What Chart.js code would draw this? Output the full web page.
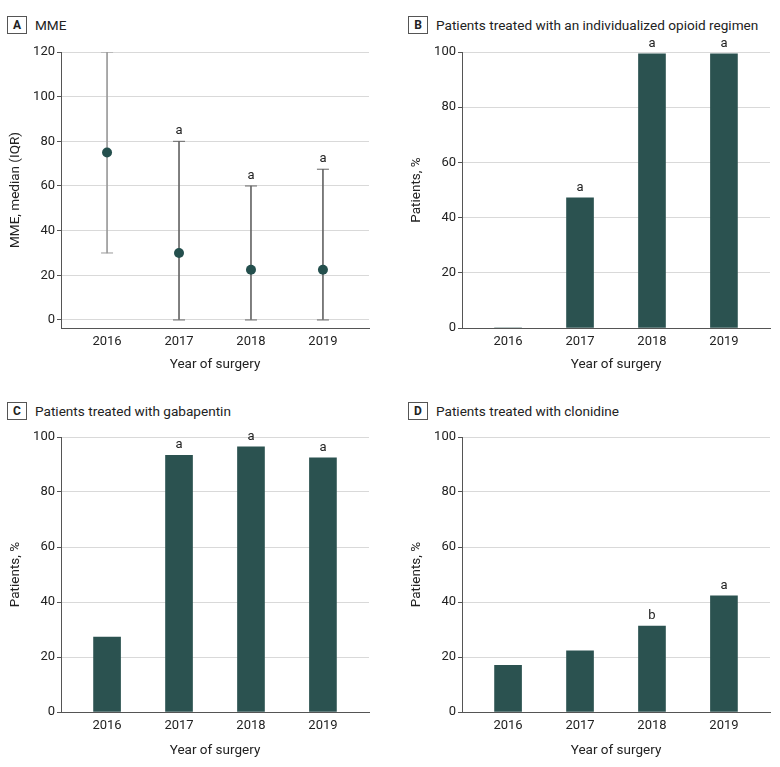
<!DOCTYPE html>
<html><head><meta charset="utf-8">
<script src="https://cdn.jsdelivr.net/npm/chart.js@4/dist/chart.umd.min.js"></script>
<style>
body{margin:0;background:#fff;width:780px;height:767px;position:relative;font-family:Roboto,sans-serif;overflow:hidden}
canvas{position:absolute}
.hdr{position:absolute;font-size:13.6px;color:#222;display:flex;align-items:center;white-space:nowrap;height:18px}
.lbl{box-sizing:border-box;display:inline-block;width:20px;height:18px;border:1px solid #555;text-align:center;line-height:16px;font-weight:bold;font-size:12px;margin-right:8px}
</style></head>
<body>
<div class="hdr" style="left:7px;top:16px"><span class="lbl">A</span>MME</div>
<div class="hdr" style="left:408px;top:16px"><span class="lbl">B</span>Patients treated with an individualized opioid regimen</div>
<div class="hdr" style="left:7px;top:402px"><span class="lbl">C</span>Patients treated with gabapentin</div>
<div class="hdr" style="left:408px;top:402px"><span class="lbl">D</span>Patients treated with clonidine</div>
<canvas id="cA" width="390" height="384" style="left:0;top:0"></canvas>
<canvas id="cB" width="390" height="384" style="left:390px;top:0"></canvas>
<canvas id="cC" width="390" height="383" style="left:0;top:384px"></canvas>
<canvas id="cD" width="390" height="383" style="left:390px;top:384px"></canvas>
<script>
// ---- data ----
const years = [2016, 2017, 2018, 2019];
const mmeMedian = [75, 30, 22.5, 22.5];
const mmeQ1 = [30, 0, 0, 0];
const mmeQ3 = [120, 80, 60, 67.5];
const mmeSig = ['', 'a', 'a', 'a'];
const individualized = [0, 47.2, 99.3, 99.3];
const individualizedSig = ['', 'a', 'a', 'a'];
const gabapentin = [27.2, 93.3, 96.4, 92.4];
const gabapentinSig = ['', 'a', 'a', 'a'];
const clonidine = [17, 22.2, 31.2, 42.2];
const clonidineSig = ['', '', 'b', 'a'];
const mmeTicks = [0, 20, 40, 60, 80, 100, 120];
const pctTicks = [0, 20, 40, 60, 80, 100];

const FONT = 'Roboto, sans-serif';
const TXT = '#222';
const AXIS = '#555';
const BAR = '#2b5250';
const DOT = '#244f4d';

const annotPlugin = {
  id: 'annot',
  afterDatasetsDraw(chart, args, opts) {
    if (!opts.labels) return;
    const ctx = chart.ctx;
    ctx.save();
    ctx.fillStyle = TXT;
    ctx.font = '13px ' + FONT;
    ctx.textAlign = 'center';
    ctx.textBaseline = 'alphabetic';
    opts.labels.forEach((t, i) => {
      if (!t) return;
      const x = chart.scales.x.getPixelForValue(years[i]);
      const y = chart.scales.y.getPixelForValue(opts.tops[i]);
      ctx.fillText(t, x, y - 7);
    });
    ctx.restore();
  }
};

function baseOptions(cfg) {
  return {
    responsive: false,
    animation: false,
    events: [],
    layout: { padding: cfg.pad },
    plugins: {
      legend: { display: false },
      tooltip: { enabled: false },
      annot: { labels: cfg.labels, tops: cfg.tops }
    },
    scales: {
      x: {
        type: 'linear',
        offset: false,
        min: 2015.36, max: 2019.64,
        afterBuildTicks: s => { s.ticks = years.map(v => ({ value: v })); },
        afterFit: s => { s.height = cfg.xh; },
        grid: { display: false, drawTicks: false },
        border: { display: true, color: AXIS, width: 1 },
        ticks: { color: TXT, font: { family: FONT, size: 13 }, padding: 6, callback: v => String(v), maxRotation: 0 },
        title: { display: true, text: 'Year of surgery', color: TXT, font: { family: FONT, size: 13.5 }, padding: { top: 4, bottom: 0 } }
      },
      y: {
        min: cfg.ymin, max: cfg.ymax,
        afterBuildTicks: s => { s.ticks = cfg.yticks.map(v => ({ value: v })); },
        afterFit: s => { s.width = 57; },
        grid: { color: '#d9d9d9', tickColor: AXIS, tickLength: 4, lineWidth: 1 },
        border: { display: true, color: AXIS, width: 1 },
        ticks: { color: TXT, font: { family: FONT, size: 13 }, padding: 2 },
        title: { display: true, text: cfg.ytitle, color: TXT, font: { family: FONT, size: 13.5 }, padding: { top: 4, bottom: 0 } }
      }
    }
  };
}

// Panel A
new Chart(document.getElementById('cA'), {
  type: 'bar',
  data: {
    datasets: [
      {
        type: 'bar',
        data: years.map((y, i) => ({ x: y, y: [mmeQ1[i], mmeQ3[i]] })),
        backgroundColor: ['#9a9a9a', '#666', '#666', '#666'],
        barThickness: 1,
        order: 3
      },
      {
        type: 'scatter',
        data: years.map((y, i) => ({ x: y, y: mmeQ1[i] })).concat(years.map((y, i) => ({ x: y, y: mmeQ3[i] }))),
        pointStyle: 'line',
        radius: 6,
        borderWidth: 1,
        borderColor: ['#9a9a9a', '#666', '#666', '#666', '#9a9a9a', '#666', '#666', '#666'],
        order: 2
      },
      {
        type: 'scatter',
        data: years.map((y, i) => ({ x: y, y: mmeMedian[i] })),
        pointStyle: 'circle',
        radius: 5,
        backgroundColor: DOT,
        borderWidth: 0,
        order: 1
      }
    ]
  },
  options: baseOptions({ pad: { left: 4, top: 52, right: 21, bottom: 11 }, xh: 45, ymin: -3.6, ymax: 120, yticks: mmeTicks, ytitle: 'MME, median (IQR)', labels: mmeSig, tops: mmeQ3 }),
  plugins: [annotPlugin]
});

function barChart(id, vals, sig, pad, xh) {
  new Chart(document.getElementById(id), {
    type: 'bar',
    data: {
      datasets: [{
        data: years.map((y, i) => ({ x: y, y: vals[i] })),
        backgroundColor: BAR,
        barThickness: 27
      }]
    },
    options: baseOptions({ pad, xh, ymin: 0, ymax: 100, yticks: pctTicks, ytitle: 'Patients, %', labels: sig, tops: vals }),
    plugins: [annotPlugin]
  });
}
barChart('cB', individualized, individualizedSig, { left: 15, top: 52, right: 10, bottom: 11 }, 45);
barChart('cC', gabapentin, gabapentinSig, { left: 4, top: 53, right: 21, bottom: 8 }, 47);
barChart('cD', clonidine, clonidineSig, { left: 15, top: 53, right: 10, bottom: 8 }, 47);
</script>
</body></html>
